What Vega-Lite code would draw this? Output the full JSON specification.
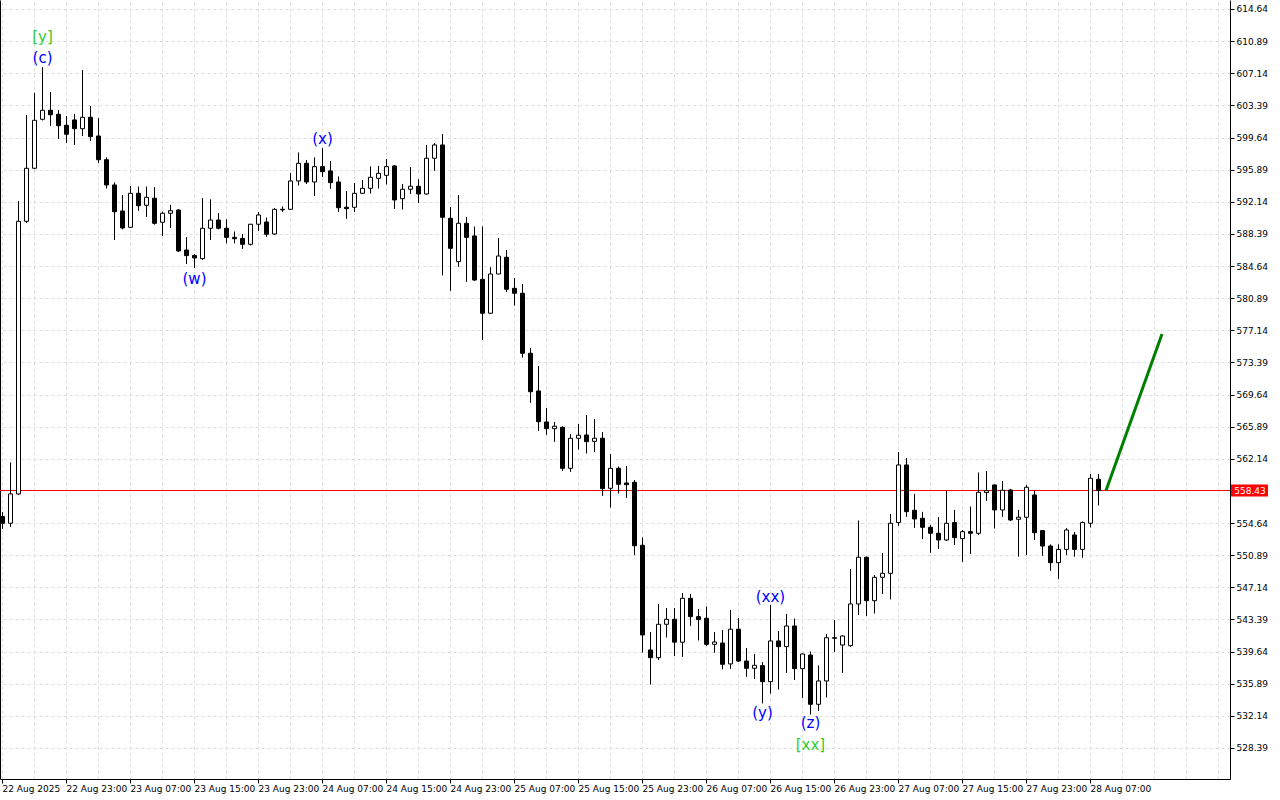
{
  "$schema": "https://vega.github.io/schema/vega-lite/v6.json",
  "width": 1230,
  "height": 779,
  "autosize": {"type": "none"},
  "padding": {"left": 0, "top": 0, "right": 50, "bottom": 21},
  "background": "white",
  "config": {"view": {"stroke": null}, "font": "DejaVu Sans"},
  "resolve": {"axis": {"x": "independent", "y": "independent"}},
  "datasets": {
    "candles": [
      {"t":"2025-08-22T15:00:00Z","open":555.40,"high":555.90,"low":554.00,"close":554.62},
      {"t":"2025-08-22T16:00:00Z","open":554.62,"high":561.69,"low":554.22,"close":558.04},
      {"t":"2025-08-22T17:00:00Z","open":558.04,"high":592.23,"low":557.95,"close":589.86},
      {"t":"2025-08-22T18:00:00Z","open":589.86,"high":602.27,"low":589.70,"close":596.05},
      {"t":"2025-08-22T19:00:00Z","open":596.05,"high":604.84,"low":595.95,"close":601.65},
      {"t":"2025-08-22T20:00:00Z","open":601.77,"high":607.84,"low":601.65,"close":602.82},
      {"t":"2025-08-22T21:00:00Z","open":602.82,"high":604.95,"low":601.02,"close":602.30},
      {"t":"2025-08-22T22:00:00Z","open":602.35,"high":602.85,"low":599.50,"close":601.02},
      {"t":"2025-08-22T23:00:00Z","open":601.07,"high":602.15,"low":599.04,"close":600.02},
      {"t":"2025-08-23T00:00:00Z","open":601.69,"high":602.39,"low":598.80,"close":600.67},
      {"t":"2025-08-23T01:00:00Z","open":600.67,"high":607.52,"low":599.82,"close":602.00},
      {"t":"2025-08-23T02:00:00Z","open":602.00,"high":603.32,"low":599.27,"close":599.74},
      {"t":"2025-08-23T03:00:00Z","open":599.82,"high":601.88,"low":596.70,"close":597.05},
      {"t":"2025-08-23T04:00:00Z","open":597.05,"high":597.30,"low":593.71,"close":594.10},
      {"t":"2025-08-23T05:00:00Z","open":594.10,"high":594.37,"low":587.68,"close":590.98},
      {"t":"2025-08-23T06:00:00Z","open":591.06,"high":592.93,"low":588.93,"close":589.08},
      {"t":"2025-08-23T07:00:00Z","open":589.16,"high":593.98,"low":589.10,"close":593.13},
      {"t":"2025-08-23T08:00:00Z","open":593.13,"high":593.90,"low":591.10,"close":591.68},
      {"t":"2025-08-23T09:00:00Z","open":591.73,"high":593.90,"low":590.40,"close":592.66},
      {"t":"2025-08-23T10:00:00Z","open":592.55,"high":593.83,"low":589.50,"close":589.63},
      {"t":"2025-08-23T11:00:00Z","open":589.75,"high":590.98,"low":588.15,"close":590.80},
      {"t":"2025-08-23T12:00:00Z","open":590.80,"high":591.77,"low":589.12,"close":591.10},
      {"t":"2025-08-23T13:00:00Z","open":591.18,"high":591.25,"low":586.30,"close":586.40},
      {"t":"2025-08-23T14:00:00Z","open":586.51,"high":587.99,"low":584.88,"close":585.85},
      {"t":"2025-08-23T15:00:00Z","open":585.88,"high":586.05,"low":584.41,"close":585.58},
      {"t":"2025-08-23T16:00:00Z","open":585.50,"high":592.55,"low":585.35,"close":589.05},
      {"t":"2025-08-23T17:00:00Z","open":589.05,"high":592.40,"low":587.68,"close":590.01},
      {"t":"2025-08-23T18:00:00Z","open":590.01,"high":590.80,"low":588.93,"close":589.05},
      {"t":"2025-08-23T19:00:00Z","open":589.05,"high":590.09,"low":587.30,"close":587.99},
      {"t":"2025-08-23T20:00:00Z","open":587.99,"high":588.65,"low":587.30,"close":587.83},
      {"t":"2025-08-23T21:00:00Z","open":587.87,"high":588.38,"low":586.67,"close":587.18},
      {"t":"2025-08-23T22:00:00Z","open":587.18,"high":589.55,"low":587.06,"close":589.52},
      {"t":"2025-08-23T23:00:00Z","open":589.52,"high":590.91,"low":588.77,"close":590.60},
      {"t":"2025-08-24T00:00:00Z","open":589.78,"high":590.28,"low":588.07,"close":588.35},
      {"t":"2025-08-24T01:00:00Z","open":588.38,"high":591.38,"low":588.30,"close":591.26},
      {"t":"2025-08-24T02:00:00Z","open":591.26,"high":591.57,"low":590.98,"close":591.20},
      {"t":"2025-08-24T03:00:00Z","open":591.26,"high":595.46,"low":591.20,"close":594.57},
      {"t":"2025-08-24T04:00:00Z","open":594.57,"high":597.87,"low":594.06,"close":596.63},
      {"t":"2025-08-24T05:00:00Z","open":596.63,"high":597.02,"low":594.22,"close":594.45},
      {"t":"2025-08-24T06:00:00Z","open":594.45,"high":597.29,"low":592.82,"close":596.24},
      {"t":"2025-08-24T07:00:00Z","open":596.24,"high":598.38,"low":595.07,"close":595.65},
      {"t":"2025-08-24T08:00:00Z","open":595.74,"high":596.90,"low":593.67,"close":594.37},
      {"t":"2025-08-24T09:00:00Z","open":594.45,"high":595.07,"low":590.98,"close":591.45},
      {"t":"2025-08-24T10:00:00Z","open":591.50,"high":593.40,"low":590.17,"close":591.34},
      {"t":"2025-08-24T11:00:00Z","open":591.50,"high":594.30,"low":590.98,"close":593.13},
      {"t":"2025-08-24T12:00:00Z","open":593.13,"high":594.68,"low":593.10,"close":593.71},
      {"t":"2025-08-24T13:00:00Z","open":593.71,"high":596.24,"low":593.13,"close":595.00},
      {"t":"2025-08-24T14:00:00Z","open":594.88,"high":596.32,"low":593.71,"close":595.46},
      {"t":"2025-08-24T15:00:00Z","open":595.23,"high":597.10,"low":594.18,"close":596.24},
      {"t":"2025-08-24T16:00:00Z","open":596.32,"high":596.40,"low":591.33,"close":592.35},
      {"t":"2025-08-24T17:00:00Z","open":592.50,"high":594.22,"low":591.26,"close":593.60},
      {"t":"2025-08-24T18:00:00Z","open":593.60,"high":596.17,"low":593.05,"close":593.95},
      {"t":"2025-08-24T19:00:00Z","open":593.95,"high":594.76,"low":592.03,"close":593.05},
      {"t":"2025-08-24T20:00:00Z","open":593.05,"high":598.77,"low":593.00,"close":597.22},
      {"t":"2025-08-24T21:00:00Z","open":597.22,"high":598.97,"low":595.77,"close":598.77},
      {"t":"2025-08-24T22:00:00Z","open":598.77,"high":600.05,"low":583.56,"close":590.33},
      {"t":"2025-08-24T23:00:00Z","open":590.21,"high":591.50,"low":581.77,"close":586.71},
      {"t":"2025-08-25T00:00:00Z","open":585.15,"high":592.93,"low":584.56,"close":589.63},
      {"t":"2025-08-25T01:00:00Z","open":589.63,"high":590.36,"low":582.81,"close":587.99},
      {"t":"2025-08-25T02:00:00Z","open":588.15,"high":589.23,"low":582.90,"close":583.01},
      {"t":"2025-08-25T03:00:00Z","open":583.09,"high":589.23,"low":576.01,"close":579.13},
      {"t":"2025-08-25T04:00:00Z","open":579.13,"high":584.49,"low":579.10,"close":583.71},
      {"t":"2025-08-25T05:00:00Z","open":583.71,"high":587.88,"low":583.70,"close":585.81},
      {"t":"2025-08-25T06:00:00Z","open":585.66,"high":586.51,"low":581.61,"close":581.93},
      {"t":"2025-08-25T07:00:00Z","open":582.04,"high":583.21,"low":580.06,"close":581.46},
      {"t":"2025-08-25T08:00:00Z","open":581.46,"high":582.54,"low":573.99,"close":574.46},
      {"t":"2025-08-25T09:00:00Z","open":574.46,"high":575.04,"low":568.69,"close":569.97},
      {"t":"2025-08-25T10:00:00Z","open":570.06,"high":572.97,"low":565.42,"close":566.47},
      {"t":"2025-08-25T11:00:00Z","open":566.44,"high":568.04,"low":564.96,"close":565.66},
      {"t":"2025-08-25T12:00:00Z","open":565.66,"high":566.44,"low":564.14,"close":565.94},
      {"t":"2025-08-25T13:00:00Z","open":565.82,"high":565.90,"low":560.75,"close":561.03},
      {"t":"2025-08-25T14:00:00Z","open":561.03,"high":565.00,"low":560.64,"close":564.54},
      {"t":"2025-08-25T15:00:00Z","open":564.54,"high":566.20,"low":563.25,"close":564.89},
      {"t":"2025-08-25T16:00:00Z","open":564.92,"high":567.25,"low":562.78,"close":564.14},
      {"t":"2025-08-25T17:00:00Z","open":564.18,"high":566.79,"low":562.97,"close":564.54},
      {"t":"2025-08-25T18:00:00Z","open":564.54,"high":565.24,"low":557.84,"close":558.66},
      {"t":"2025-08-25T19:00:00Z","open":558.70,"high":562.70,"low":556.48,"close":561.03},
      {"t":"2025-08-25T20:00:00Z","open":561.03,"high":561.22,"low":558.12,"close":559.17},
      {"t":"2025-08-25T21:00:00Z","open":559.32,"high":561.30,"low":557.60,"close":559.12},
      {"t":"2025-08-25T22:00:00Z","open":559.40,"high":559.67,"low":550.92,"close":552.00},
      {"t":"2025-08-25T23:00:00Z","open":552.05,"high":552.94,"low":539.56,"close":541.58},
      {"t":"2025-08-26T00:00:00Z","open":539.83,"high":541.89,"low":535.82,"close":538.93},
      {"t":"2025-08-26T01:00:00Z","open":538.93,"high":545.20,"low":538.66,"close":542.83},
      {"t":"2025-08-26T02:00:00Z","open":542.83,"high":544.70,"low":541.31,"close":543.41},
      {"t":"2025-08-26T03:00:00Z","open":543.41,"high":544.70,"low":539.13,"close":540.74},
      {"t":"2025-08-26T04:00:00Z","open":540.74,"high":546.45,"low":539.05,"close":545.86},
      {"t":"2025-08-26T05:00:00Z","open":545.86,"high":546.37,"low":542.67,"close":543.72},
      {"t":"2025-08-26T06:00:00Z","open":543.72,"high":544.57,"low":540.96,"close":543.37},
      {"t":"2025-08-26T07:00:00Z","open":543.53,"high":544.88,"low":540.29,"close":540.49},
      {"t":"2025-08-26T08:00:00Z","open":540.49,"high":541.89,"low":539.52,"close":540.76},
      {"t":"2025-08-26T09:00:00Z","open":540.64,"high":542.16,"low":537.58,"close":538.16},
      {"t":"2025-08-26T10:00:00Z","open":538.20,"high":544.50,"low":537.65,"close":542.25},
      {"t":"2025-08-26T11:00:00Z","open":542.25,"high":543.53,"low":538.46,"close":538.54},
      {"t":"2025-08-26T12:00:00Z","open":538.54,"high":540.03,"low":536.71,"close":537.69},
      {"t":"2025-08-26T13:00:00Z","open":537.69,"high":539.36,"low":536.48,"close":538.04},
      {"t":"2025-08-26T14:00:00Z","open":538.00,"high":538.39,"low":533.61,"close":536.13},
      {"t":"2025-08-26T15:00:00Z","open":536.13,"high":545.08,"low":534.77,"close":540.88},
      {"t":"2025-08-26T16:00:00Z","open":540.88,"high":542.04,"low":535.24,"close":540.22},
      {"t":"2025-08-26T17:00:00Z","open":540.22,"high":544.03,"low":537.18,"close":542.63},
      {"t":"2025-08-26T18:00:00Z","open":542.63,"high":543.48,"low":536.33,"close":537.65},
      {"t":"2025-08-26T19:00:00Z","open":537.65,"high":539.40,"low":534.26,"close":539.36},
      {"t":"2025-08-26T20:00:00Z","open":539.24,"high":539.63,"low":532.32,"close":533.49},
      {"t":"2025-08-26T21:00:00Z","open":533.49,"high":538.00,"low":532.74,"close":536.21},
      {"t":"2025-08-26T22:00:00Z","open":536.21,"high":541.66,"low":534.31,"close":541.26},
      {"t":"2025-08-26T23:00:00Z","open":541.26,"high":543.33,"low":539.63,"close":541.20},
      {"t":"2025-08-27T00:00:00Z","open":540.41,"high":541.50,"low":537.18,"close":541.46},
      {"t":"2025-08-27T01:00:00Z","open":540.33,"high":549.28,"low":540.22,"close":545.20},
      {"t":"2025-08-27T02:00:00Z","open":545.20,"high":554.92,"low":543.92,"close":550.65},
      {"t":"2025-08-27T03:00:00Z","open":550.65,"high":550.70,"low":543.80,"close":545.58},
      {"t":"2025-08-27T04:00:00Z","open":545.58,"high":548.58,"low":544.11,"close":548.31},
      {"t":"2025-08-27T05:00:00Z","open":548.31,"high":551.12,"low":546.37,"close":548.78},
      {"t":"2025-08-27T06:00:00Z","open":548.78,"high":555.70,"low":545.75,"close":554.62},
      {"t":"2025-08-27T07:00:00Z","open":554.70,"high":562.90,"low":554.34,"close":561.42},
      {"t":"2025-08-27T08:00:00Z","open":561.42,"high":562.20,"low":555.39,"close":555.97},
      {"t":"2025-08-27T09:00:00Z","open":556.13,"high":558.04,"low":554.11,"close":555.12},
      {"t":"2025-08-27T10:00:00Z","open":555.20,"high":555.94,"low":552.79,"close":554.15},
      {"t":"2025-08-27T11:00:00Z","open":554.15,"high":554.42,"low":551.20,"close":553.45},
      {"t":"2025-08-27T12:00:00Z","open":553.45,"high":555.32,"low":551.62,"close":552.67},
      {"t":"2025-08-27T13:00:00Z","open":552.67,"high":558.42,"low":552.55,"close":554.62},
      {"t":"2025-08-27T14:00:00Z","open":554.70,"high":556.17,"low":552.08,"close":552.94},
      {"t":"2025-08-27T15:00:00Z","open":552.82,"high":553.83,"low":550.14,"close":553.64},
      {"t":"2025-08-27T16:00:00Z","open":553.64,"high":556.55,"low":551.03,"close":553.45},
      {"t":"2025-08-27T17:00:00Z","open":553.45,"high":560.52,"low":553.25,"close":558.23},
      {"t":"2025-08-27T18:00:00Z","open":558.20,"high":560.72,"low":557.25,"close":558.42},
      {"t":"2025-08-27T19:00:00Z","open":559.09,"high":559.10,"low":554.03,"close":556.17},
      {"t":"2025-08-27T20:00:00Z","open":556.17,"high":559.55,"low":555.39,"close":558.47},
      {"t":"2025-08-27T21:00:00Z","open":558.50,"high":558.60,"low":554.90,"close":555.00},
      {"t":"2025-08-27T22:00:00Z","open":555.08,"high":556.17,"low":550.74,"close":555.32},
      {"t":"2025-08-27T23:00:00Z","open":555.32,"high":559.09,"low":550.92,"close":558.82},
      {"t":"2025-08-28T00:00:00Z","open":557.92,"high":558.42,"low":552.67,"close":553.52},
      {"t":"2025-08-28T01:00:00Z","open":553.76,"high":553.80,"low":550.85,"close":551.96},
      {"t":"2025-08-28T02:00:00Z","open":551.96,"high":552.13,"low":549.09,"close":550.02},
      {"t":"2025-08-28T03:00:00Z","open":550.02,"high":552.13,"low":548.15,"close":551.57},
      {"t":"2025-08-28T04:00:00Z","open":551.57,"high":554.03,"low":550.92,"close":553.83},
      {"t":"2025-08-28T05:00:00Z","open":553.25,"high":553.60,"low":550.74,"close":551.57},
      {"t":"2025-08-28T06:00:00Z","open":551.57,"high":554.80,"low":550.62,"close":554.70},
      {"t":"2025-08-28T07:00:00Z","open":554.62,"high":560.37,"low":554.15,"close":559.87},
      {"t":"2025-08-28T08:00:00Z","open":559.75,"high":560.37,"low":556.72,"close":558.43}
    ],
    "forecast": [
      {"t":"2025-08-28T09:00:00Z","p":558.43},
      {"t":"2025-08-28T16:00:00Z","p":576.71}
    ],
    "waves": [
      {"t":"2025-08-22T20:00:00Z","p":611.37,"text":"[y]","degree":"primary"},
      {"t":"2025-08-22T20:00:00Z","p":608.92,"text":"(c)","degree":"intermediate"},
      {"t":"2025-08-23T15:00:00Z","p":583.13,"text":"(w)","degree":"intermediate"},
      {"t":"2025-08-24T07:00:00Z","p":599.47,"text":"(x)","degree":"intermediate"},
      {"t":"2025-08-26T15:00:00Z","p":546.02,"text":"(xx)","degree":"intermediate"},
      {"t":"2025-08-26T14:00:00Z","p":532.48,"text":"(y)","degree":"intermediate"},
      {"t":"2025-08-26T20:00:00Z","p":531.31,"text":"(z)","degree":"intermediate"},
      {"t":"2025-08-26T20:00:00Z","p":528.74,"text":"[xx]","degree":"primary"}
    ],
    "bid": [
      {"price": 558.43, "label": "558.43"}
    ]
  },
  "layer": [
    {
      "data": {"name": "candles"},
      "mark": {"type": "rule", "color": "black", "strokeWidth": 1, "xOffset": 0.5},
      "encoding": {
        "x": {
          "field": "t", "type": "temporal",
          "scale": {"type": "utc", "domain": [1755873900000, 1756427400000], "nice": false, "padding": 0},
          "axis": {
            "orient": "bottom", "title": null, "grid": false,
            "values": [1755874800000, 1755903600000, 1755932400000, 1755961200000, 1755990000000, 1756018800000, 1756047600000, 1756076400000, 1756105200000, 1756134000000, 1756162800000, 1756191600000, 1756220400000, 1756249200000, 1756278000000, 1756306800000, 1756335600000, 1756364400000],
            "labelExpr": "time(datum.value) == 1755874800000 ? '22 Aug 2025' : utcFormat(datum.value, '%d %b %H:%M')",
            "labelAlign": "left", "labelFontSize": 9, "labelColor": "black", "labelPadding": 1,
            "labelFlush": false, "labelOverlap": false, "labelOffset": 0,
            "domainColor": "black", "tickColor": "black", "tickSize": 4
          }
        },
        "y": {
          "field": "low", "type": "quantitative",
          "scale": {"domain": [524.77, 615.69], "nice": false, "zero": false, "padding": 0},
          "axis": {
            "orient": "right", "title": null,
            "values": [614.64, 610.89, 607.14, 603.39, 599.64, 595.89, 592.14, 588.39, 584.64, 580.89, 577.14, 573.39, 569.64, 565.89, 562.14, 554.64, 550.89, 547.14, 543.39, 539.64, 535.89, 532.14, 528.39],
            "format": ".2f", "labelFontSize": 9, "labelColor": "black", "labelPadding": 2,
            "labelOverlap": false, "labelFlush": false,
            "grid": true, "gridColor": "#dcdcdc", "gridDash": [3, 3],
            "domainColor": "black", "tickColor": "black", "tickSize": 4
          }
        },
        "y2": {"field": "high"}
      }
    },
    {
      "data": {"name": "bid"},
      "mark": {"type": "rule", "color": "#ff0000", "strokeWidth": 1, "yOffset": -0.1},
      "encoding": {
        "y": {"field": "price", "type": "quantitative", "axis": null}
      }
    },
    {
      "data": {"name": "candles"},
      "mark": {"type": "rule", "color": "black", "strokeWidth": 1, "xOffset": 0.5},
      "encoding": {
        "x": {"field": "t", "type": "temporal", "axis": null},
        "y": {"field": "low", "type": "quantitative", "axis": null},
        "y2": {"field": "high"}
      }
    },
    {
      "data": {"name": "candles"},
      "mark": {"type": "bar", "width": 4, "stroke": "black", "strokeWidth": 1, "xOffset": 0.5},
      "encoding": {
        "x": {
          "field": "t", "type": "temporal",
          "axis": {
            "orient": "top", "title": null, "labels": false, "ticks": false, "domain": false,
            "grid": true, "gridColor": "#dcdcdc", "gridDash": [3, 3],
            "values": [1755874800000, 1755889200000, 1755903600000, 1755918000000, 1755932400000, 1755946800000, 1755961200000, 1755975600000, 1755990000000, 1756004400000, 1756018800000, 1756033200000, 1756047600000, 1756062000000, 1756076400000, 1756090800000, 1756105200000, 1756119600000, 1756134000000, 1756148400000, 1756162800000, 1756177200000, 1756191600000, 1756206000000, 1756220400000, 1756234800000, 1756249200000, 1756263600000, 1756278000000, 1756292400000, 1756306800000, 1756321200000, 1756335600000, 1756350000000, 1756364400000, 1756378800000, 1756393200000, 1756407600000, 1756422000000]
          }
        },
        "y": {
          "field": "open", "type": "quantitative",
          "axis": {"orient": "left", "title": null, "labels": false, "ticks": false, "grid": false, "domain": true, "domainColor": "black"}
        },
        "y2": {"field": "close"},
        "fill": {"condition": {"test": "datum.close < datum.open", "value": "black"}, "value": "white"}
      }
    },
    {
      "data": {"name": "forecast"},
      "mark": {"type": "line", "color": "#008000", "strokeWidth": 3},
      "encoding": {
        "x": {"field": "t", "type": "temporal", "axis": null},
        "y": {"field": "p", "type": "quantitative", "axis": null}
      }
    },
    {
      "data": {"name": "waves"},
      "mark": {"type": "text", "fontSize": 15, "font": "DejaVu Sans", "align": "center", "baseline": "middle", "xOffset": 0.5},
      "encoding": {
        "x": {"field": "t", "type": "temporal", "axis": null},
        "y": {"field": "p", "type": "quantitative", "axis": null},
        "text": {"field": "text"},
        "color": {"field": "degree", "type": "nominal", "scale": {"domain": ["intermediate", "primary"], "range": ["#0000ff", "#32cd32"]}, "legend": null}
      }
    },
    {
      "data": {"name": "bid"},
      "mark": {"type": "rect", "color": "#ff0000"},
      "encoding": {
        "x": {"datum": 1756427850000, "type": "temporal", "axis": null},
        "x2": {"datum": 1756444500000},
        "y": {"datum": 559.13, "type": "quantitative", "axis": null},
        "y2": {"datum": 557.73}
      }
    },
    {
      "data": {"name": "bid"},
      "mark": {"type": "text", "color": "white", "fontSize": 9, "align": "center", "baseline": "middle"},
      "encoding": {
        "x": {"datum": 1756436400000, "type": "temporal", "axis": null},
        "y": {"field": "price", "type": "quantitative", "axis": null},
        "text": {"field": "label"}
      }
    }
  ]
}
